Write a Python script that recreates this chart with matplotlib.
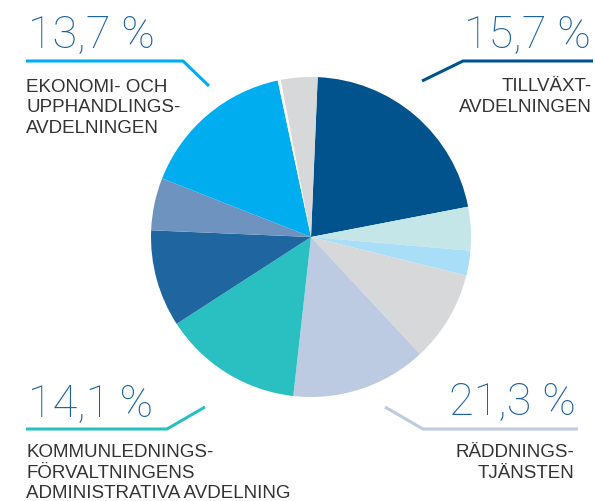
import matplotlib
matplotlib.use("Agg")
import matplotlib.pyplot as plt

W, H = 595, 502

# slice shares (percent), clockwise from the top
shares = [21.3, 4.4, 2.5, 9.2, 13.7, 14.1, 9.8, 5.3, 15.7, 0.3, 3.7]
colors = ["#00538c", "#c5e6e8", "#a8def7", "#d7d8da", "#bccbe2", "#2abfc1",
          "#1f66a0", "#6e93bf", "#00aeef", "#ffffff", "#d7d8da"]

pct_texts = ["13,7 %", "15,7 %", "14,1\u2009%", "21,3 %"]
name_texts = [
    ["EKONOMI- OCH", "UPPHANDLINGS-", "AVDELNINGEN"],
    ["TILLVÄXT-", "AVDELNINGEN"],
    ["KOMMUNLEDNINGS-", "FÖRVALTNINGENS", "ADMINISTRATIVA AVDELNING"],
    ["RÄDDNINGS-", "TJÄNSTEN"],
]
line_colors = ["#00aeef", "#00538c", "#2abfc1", "#bccbe2"]

fig = plt.figure(figsize=(W / 100, H / 100), dpi=100)
ax = fig.add_axes([0, 0, 1, 1])

ax.pie(shares, colors=colors, startangle=87.6, counterclock=False,
       center=(311, H - 238), radius=160,
       wedgeprops=dict(linewidth=0))
ax.set_xlim(0, W)
ax.set_ylim(0, H)
ax.set_aspect("equal")
ax.axis("off")

def py(y):
    return H - y

# callout lines (x list, y list in pixels from top)
callouts = [
    ([26, 183, 209], [62, 62, 87]),
    ([593, 463, 422], [62, 62, 82]),
    ([26, 167, 205], [430, 430, 408]),
    ([578, 423, 385], [430, 430, 408]),
]
for (xs, ys), c in zip(callouts, line_colors):
    ax.plot(xs, [py(y) for y in ys], color=c, lw=2.2, solid_capstyle="butt")

# percentages: (x, baseline, alignment)
pct_pos = [(28, 48, "left"), (591, 48, "right"), (28, 417, "left"), (576, 415, "right")]
for t, (x, y, ha) in zip(pct_texts, pct_pos):
    ax.text(x, py(y), t, ha=ha, va="baseline", fontsize=32.5,
            family="Roboto", fontweight="light", color="#1d63a0")

name_pos = [(26, [92, 112, 133], "left"), (592, [91, 112], "right"),
            (26, [457, 478, 498], "left"), (574, [457, 478], "right")]
for lines, (x, ys, ha) in zip(name_texts, name_pos):
    for line, y in zip(lines, ys):
        ax.text(x, py(y), line, ha=ha, va="baseline", fontsize=13.5,
                family="Liberation Sans", color="#333333")

fig.savefig("out.png", dpi=100)
